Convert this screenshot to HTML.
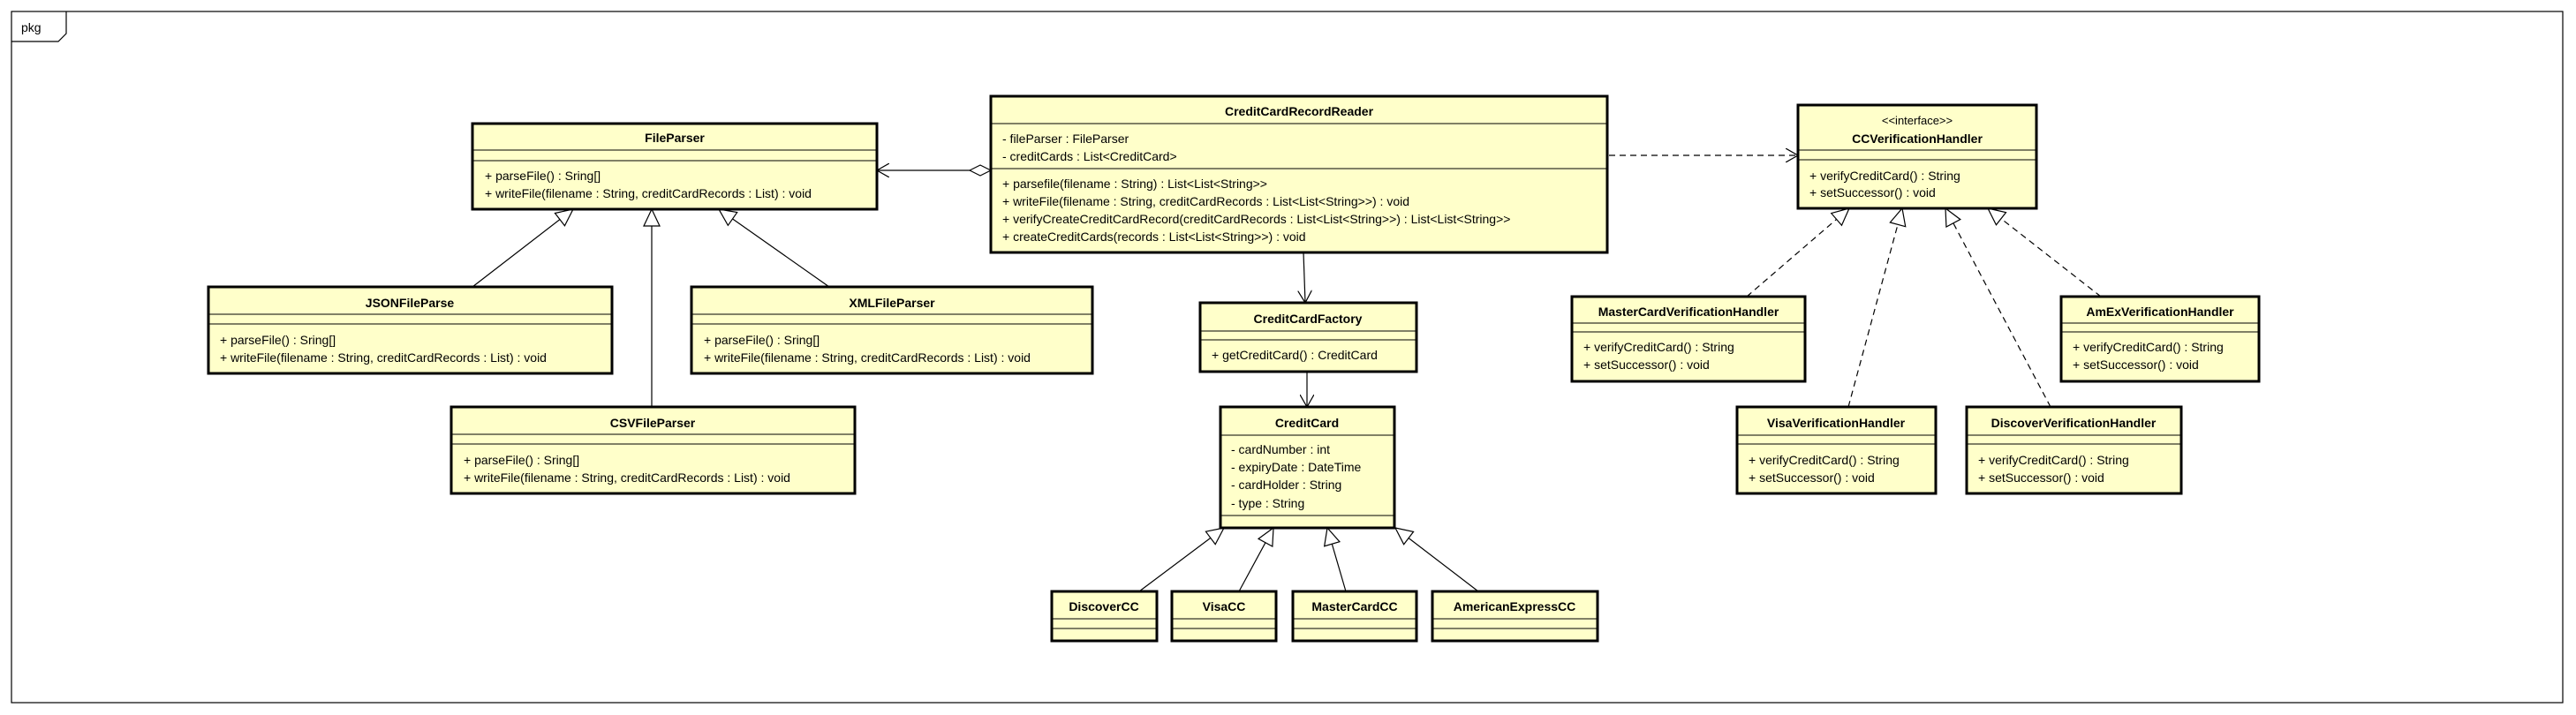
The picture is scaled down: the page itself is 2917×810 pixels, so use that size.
<!DOCTYPE html>
<html><head><meta charset="utf-8"><style>
html,body{margin:0;padding:0;background:#fff;}
svg{display:block;}
text{font-family:"Liberation Sans",Arial,sans-serif;font-size:14px;fill:#000;}
.b{font-weight:bold;}
.box{fill:#ffffca;stroke:#000;stroke-width:3;}
.sep{stroke:#000;stroke-width:1;}
.ln{stroke:#000;stroke-width:1.2;fill:none;}
.dl{stroke:#000;stroke-width:1.2;fill:none;stroke-dasharray:7,5;}
</style></head><body>
<svg width="2917" height="810" viewBox="0 0 2917 810" xmlns="http://www.w3.org/2000/svg">
<defs>
<marker id="open" markerWidth="16" markerHeight="16" refX="14" refY="8" orient="auto" markerUnits="userSpaceOnUse"><path d="M0,0 L14,8 L0,16" fill="none" stroke="#000" stroke-width="1.2"/></marker>
<marker id="tri" markerWidth="22" markerHeight="20" refX="20" refY="10" orient="auto" markerUnits="userSpaceOnUse"><path d="M1,1 L20,10 L1,19 Z" fill="#fff" stroke="#000" stroke-width="1.2"/></marker>
<marker id="dia" markerWidth="26" markerHeight="14" refX="1" refY="7" orient="auto" markerUnits="userSpaceOnUse"><path d="M1,7 L13,1 L25,7 L13,13 Z" fill="#fff" stroke="#000" stroke-width="1.2"/></marker>
</defs>
<rect x="13" y="13" width="2889" height="783" fill="#fff" stroke="#000" stroke-width="1.2"/>
<path d="M13,47 L66,47 L75,38 L75,13" fill="none" stroke="#000" stroke-width="1.2"/>
<text x="24" y="36">pkg</text>

<!-- connectors -->
<line class="ln" x1="1122" y1="193" x2="993" y2="193" marker-start="url(#dia)" marker-end="url(#open)"/>
<line class="ln" x1="535" y1="325" x2="649" y2="237" marker-end="url(#tri)"/>
<line class="ln" x1="738" y1="461" x2="738" y2="237" marker-end="url(#tri)"/>
<line class="ln" x1="939" y1="325" x2="814" y2="237" marker-end="url(#tri)"/>
<line class="ln" x1="1476" y1="286" x2="1478" y2="343" marker-end="url(#open)"/>
<line class="ln" x1="1480" y1="421" x2="1480" y2="461" marker-end="url(#open)"/>
<line class="ln" x1="1290" y1="670" x2="1386" y2="598" marker-end="url(#tri)"/>
<line class="ln" x1="1403" y1="670" x2="1442" y2="598" marker-end="url(#tri)"/>
<line class="ln" x1="1524" y1="670" x2="1503" y2="598" marker-end="url(#tri)"/>
<line class="ln" x1="1674" y1="670" x2="1580" y2="598" marker-end="url(#tri)"/>
<line class="dl" x1="1822" y1="176" x2="2036" y2="176" marker-end="url(#open)"/>
<line class="dl" x1="1978" y1="336" x2="2094" y2="236" marker-end="url(#tri)"/>
<line class="dl" x1="2093" y1="461" x2="2154" y2="236" marker-end="url(#tri)"/>
<line class="dl" x1="2322" y1="461" x2="2203" y2="236" marker-end="url(#tri)"/>
<line class="dl" x1="2379" y1="336" x2="2251" y2="236" marker-end="url(#tri)"/>

<!-- FileParser -->
<rect class="box" x="535" y="140" width="458" height="97"/>
<line class="sep" x1="535" y1="170" x2="993" y2="170"/><line class="sep" x1="535" y1="182" x2="993" y2="182"/>
<text class="b" x="764" y="161" text-anchor="middle">FileParser</text>
<text x="549" y="204">+ parseFile() : Sring[]</text>
<text x="549" y="224">+ writeFile(filename : String, creditCardRecords : List) : void</text>

<!-- JSON -->
<rect class="box" x="236" y="325" width="457" height="98"/>
<line class="sep" x1="236" y1="356" x2="693" y2="356"/><line class="sep" x1="236" y1="367" x2="693" y2="367"/>
<text class="b" x="464" y="348" text-anchor="middle">JSONFileParse</text>
<text x="249" y="390">+ parseFile() : Sring[]</text>
<text x="249" y="410">+ writeFile(filename : String, creditCardRecords : List) : void</text>

<!-- XML -->
<rect class="box" x="783" y="325" width="454" height="98"/>
<line class="sep" x1="783" y1="356" x2="1237" y2="356"/><line class="sep" x1="783" y1="367" x2="1237" y2="367"/>
<text class="b" x="1010" y="348" text-anchor="middle">XMLFileParser</text>
<text x="797" y="390">+ parseFile() : Sring[]</text>
<text x="797" y="410">+ writeFile(filename : String, creditCardRecords : List) : void</text>

<!-- CSV -->
<rect class="box" x="511" y="461" width="457" height="98"/>
<line class="sep" x1="511" y1="492" x2="968" y2="492"/><line class="sep" x1="511" y1="503" x2="968" y2="503"/>
<text class="b" x="739" y="484" text-anchor="middle">CSVFileParser</text>
<text x="525" y="526">+ parseFile() : Sring[]</text>
<text x="525" y="546">+ writeFile(filename : String, creditCardRecords : List) : void</text>

<!-- CreditCardRecordReader -->
<rect class="box" x="1122" y="109" width="698" height="177"/>
<line class="sep" x1="1122" y1="140" x2="1820" y2="140"/><line class="sep" x1="1122" y1="191" x2="1820" y2="191"/>
<text class="b" x="1471" y="131" text-anchor="middle">CreditCardRecordReader</text>
<text x="1135" y="162">- fileParser : FileParser</text>
<text x="1135" y="182">- creditCards : List&lt;CreditCard&gt;</text>
<text x="1135" y="213">+ parsefile(filename : String) : List&lt;List&lt;String&gt;&gt;</text>
<text x="1135" y="233">+ writeFile(filename : String, creditCardRecords : List&lt;List&lt;String&gt;&gt;) : void</text>
<text x="1135" y="253">+ verifyCreateCreditCardRecord(creditCardRecords : List&lt;List&lt;String&gt;&gt;) : List&lt;List&lt;String&gt;&gt;</text>
<text x="1135" y="273">+ createCreditCards(records : List&lt;List&lt;String&gt;&gt;) : void</text>

<!-- CreditCardFactory -->
<rect class="box" x="1359" y="343" width="245" height="78"/>
<line class="sep" x1="1359" y1="375" x2="1604" y2="375"/><line class="sep" x1="1359" y1="385" x2="1604" y2="385"/>
<text class="b" x="1481" y="366" text-anchor="middle">CreditCardFactory</text>
<text x="1372" y="407">+ getCreditCard() : CreditCard</text>

<!-- CreditCard -->
<rect class="box" x="1382" y="461" width="197" height="137"/>
<line class="sep" x1="1382" y1="493" x2="1579" y2="493"/><line class="sep" x1="1382" y1="584" x2="1579" y2="584"/>
<text class="b" x="1480" y="484" text-anchor="middle">CreditCard</text>
<text x="1394" y="514">- cardNumber : int</text>
<text x="1394" y="534">- expiryDate : DateTime</text>
<text x="1394" y="554">- cardHolder : String</text>
<text x="1394" y="575">- type : String</text>

<!-- subclasses -->
<g>
<rect class="box" x="1191" y="670" width="119" height="56"/>
<line class="sep" x1="1191" y1="701" x2="1310" y2="701"/><line class="sep" x1="1191" y1="712" x2="1310" y2="712"/>
<text class="b" x="1250" y="692" text-anchor="middle">DiscoverCC</text>
<rect class="box" x="1327" y="670" width="118" height="56"/>
<line class="sep" x1="1327" y1="701" x2="1445" y2="701"/><line class="sep" x1="1327" y1="712" x2="1445" y2="712"/>
<text class="b" x="1386" y="692" text-anchor="middle">VisaCC</text>
<rect class="box" x="1464" y="670" width="140" height="56"/>
<line class="sep" x1="1464" y1="701" x2="1604" y2="701"/><line class="sep" x1="1464" y1="712" x2="1604" y2="712"/>
<text class="b" x="1534" y="692" text-anchor="middle">MasterCardCC</text>
<rect class="box" x="1622" y="670" width="187" height="56"/>
<line class="sep" x1="1622" y1="701" x2="1809" y2="701"/><line class="sep" x1="1622" y1="712" x2="1809" y2="712"/>
<text class="b" x="1715" y="692" text-anchor="middle">AmericanExpressCC</text>
</g>

<!-- CCVerificationHandler -->
<rect class="box" x="2036" y="119" width="270" height="117"/>
<line class="sep" x1="2036" y1="170" x2="2306" y2="170"/><line class="sep" x1="2036" y1="181" x2="2306" y2="181"/>
<text x="2171" y="141" text-anchor="middle" style="font-size:13px">&lt;&lt;interface&gt;&gt;</text>
<text class="b" x="2171" y="162" text-anchor="middle">CCVerificationHandler</text>
<text x="2049" y="204">+ verifyCreditCard() : String</text>
<text x="2049" y="223">+ setSuccessor() : void</text>

<!-- MasterCardVH -->
<rect class="box" x="1780" y="336" width="264" height="96"/>
<line class="sep" x1="1780" y1="366" x2="2044" y2="366"/><line class="sep" x1="1780" y1="376" x2="2044" y2="376"/>
<text class="b" x="1912" y="358" text-anchor="middle">MasterCardVerificationHandler</text>
<text x="1793" y="398">+ verifyCreditCard() : String</text>
<text x="1793" y="418">+ setSuccessor() : void</text>

<!-- AmExVH -->
<rect class="box" x="2334" y="336" width="224" height="96"/>
<line class="sep" x1="2334" y1="366" x2="2558" y2="366"/><line class="sep" x1="2334" y1="376" x2="2558" y2="376"/>
<text class="b" x="2446" y="358" text-anchor="middle">AmExVerificationHandler</text>
<text x="2347" y="398">+ verifyCreditCard() : String</text>
<text x="2347" y="418">+ setSuccessor() : void</text>

<!-- VisaVH -->
<rect class="box" x="1967" y="461" width="225" height="98"/>
<line class="sep" x1="1967" y1="493" x2="2192" y2="493"/><line class="sep" x1="1967" y1="503" x2="2192" y2="503"/>
<text class="b" x="2079" y="484" text-anchor="middle">VisaVerificationHandler</text>
<text x="1980" y="526">+ verifyCreditCard() : String</text>
<text x="1980" y="546">+ setSuccessor() : void</text>

<!-- DiscoverVH -->
<rect class="box" x="2227" y="461" width="243" height="98"/>
<line class="sep" x1="2227" y1="493" x2="2470" y2="493"/><line class="sep" x1="2227" y1="503" x2="2470" y2="503"/>
<text class="b" x="2348" y="484" text-anchor="middle">DiscoverVerificationHandler</text>
<text x="2240" y="526">+ verifyCreditCard() : String</text>
<text x="2240" y="546">+ setSuccessor() : void</text>
</svg>
</body></html>
